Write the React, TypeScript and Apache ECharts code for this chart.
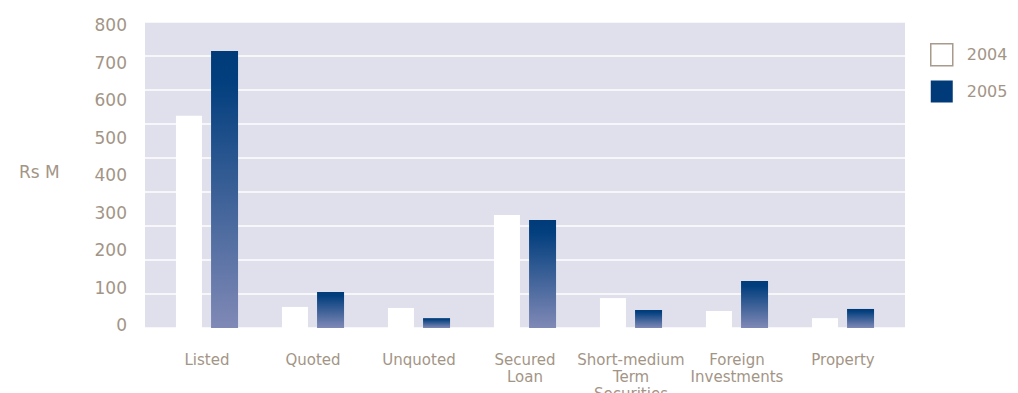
import React, { useEffect, useRef } from "react";
import * as echarts from "echarts";

const categories = [
  "Listed",
  "Quoted",
  "Unquoted",
  "Secured\nLoan",
  "Short-medium\nTerm\nSecurities",
  "Foreign\nInvestments",
  "Property",
];
const values2004 = [624, 62, 59, 332, 88, 50, 29];
const values2005 = [815, 106, 29, 318, 53, 138, 56];
const tickLabels = ["0", "100", "200", "300", "400", "500", "600", "700", "800"];

const TEXT = "#a39586";
const FONT = "DejaVu Sans";

export default function App() {
  const ref = useRef<HTMLDivElement>(null);

  useEffect(() => {
    if (!ref.current) return;
    const chart = echarts.init(ref.current, undefined, { renderer: "svg" });
    const navyGradient = new echarts.graphic.LinearGradient(0, 0, 0, 1, [
      { offset: 0, color: "#003a79" },
      { offset: 0.12, color: "#033f7e" },
      { offset: 1, color: "#8089b6" },
    ]);
    chart.setOption({
      animation: false,
      textStyle: { fontFamily: FONT },
      grid: [
        // panel with gridlines
        {
          left: 145, right: 113, top: 22, bottom: 65,
          show: true, backgroundColor: "#dfe0ec", borderWidth: 0,
          outerBoundsMode: "none", containLabel: false,
        },
        // bars
        { left: 154, right: 122, top: 22, bottom: 65, outerBoundsMode: "none", containLabel: false },
        // tick labels
        { left: 145, right: 113, top: 25, bottom: 68, outerBoundsMode: "none", containLabel: false },
      ],
      xAxis: [
        { gridIndex: 0, type: "value", show: false },
        {
          gridIndex: 1,
          type: "category",
          data: categories,
          axisLine: { show: false },
          axisTick: { show: false },
          axisLabel: {
            color: TEXT,
            fontSize: 15,
            lineHeight: 17,
            margin: 23,
            fontFamily: FONT,
            interval: 0,
          },
        },
        { gridIndex: 2, type: "value", show: false },
      ],
      yAxis: [
        {
          gridIndex: 0,
          type: "value",
          min: 0,
          max: 900,
          interval: 100,
          axisLine: { show: false },
          axisTick: { show: false },
          axisLabel: { show: false },
          splitLine: { lineStyle: { color: "#ffffff", width: 1.5 } },
        },
        { gridIndex: 1, type: "value", min: 0, max: 900, interval: 100, show: false },
        {
          gridIndex: 2,
          type: "value",
          min: 0,
          max: 800,
          interval: 100,
          axisLine: { show: false },
          axisTick: { show: false },
          splitLine: { show: false },
          axisLabel: {
            color: TEXT,
            fontSize: 17,
            margin: 18,
            fontFamily: FONT,
            formatter: (v: number) => tickLabels[Math.round(v / 100)] ?? "",
          },
        },
      ],
      legend: {
        orient: "vertical",
        left: 930,
        top: 43,
        padding: 0,
        icon: "rect",
        itemWidth: 22,
        itemHeight: 22,
        itemGap: 14,
        textStyle: { color: TEXT, fontSize: 16, fontFamily: FONT, padding: [0, 0, 0, 9] },
        data: [
          { name: "2004", itemStyle: { color: "#ffffff", borderColor: "#a89a8c", borderWidth: 1.5 } },
          { name: "2005", itemStyle: { color: "#003a79" } },
        ],
      },
      graphic: [
        {
          type: "text",
          left: 19,
          top: 163,
          style: { text: "Rs M", fill: TEXT, fontSize: 17, fontFamily: FONT },
        },
      ],
      series: [
        {
          name: "2004",
          type: "bar",
          xAxisIndex: 1,
          yAxisIndex: 1,
          data: values2004,
          barWidth: 26,
          barGap: "35%",
          itemStyle: { color: "#ffffff" },
        },
        {
          name: "2005",
          type: "bar",
          xAxisIndex: 1,
          yAxisIndex: 1,
          data: values2005,
          barWidth: 27,
          barGap: "35%",
          itemStyle: { color: navyGradient },
        },
      ],
    });
    return () => chart.dispose();
  }, []);

  return (
    <div
      ref={ref}
      style={{ position: "fixed", left: 0, top: 0, width: 1018, height: 393, background: "#ffffff" }}
    />
  );
}
